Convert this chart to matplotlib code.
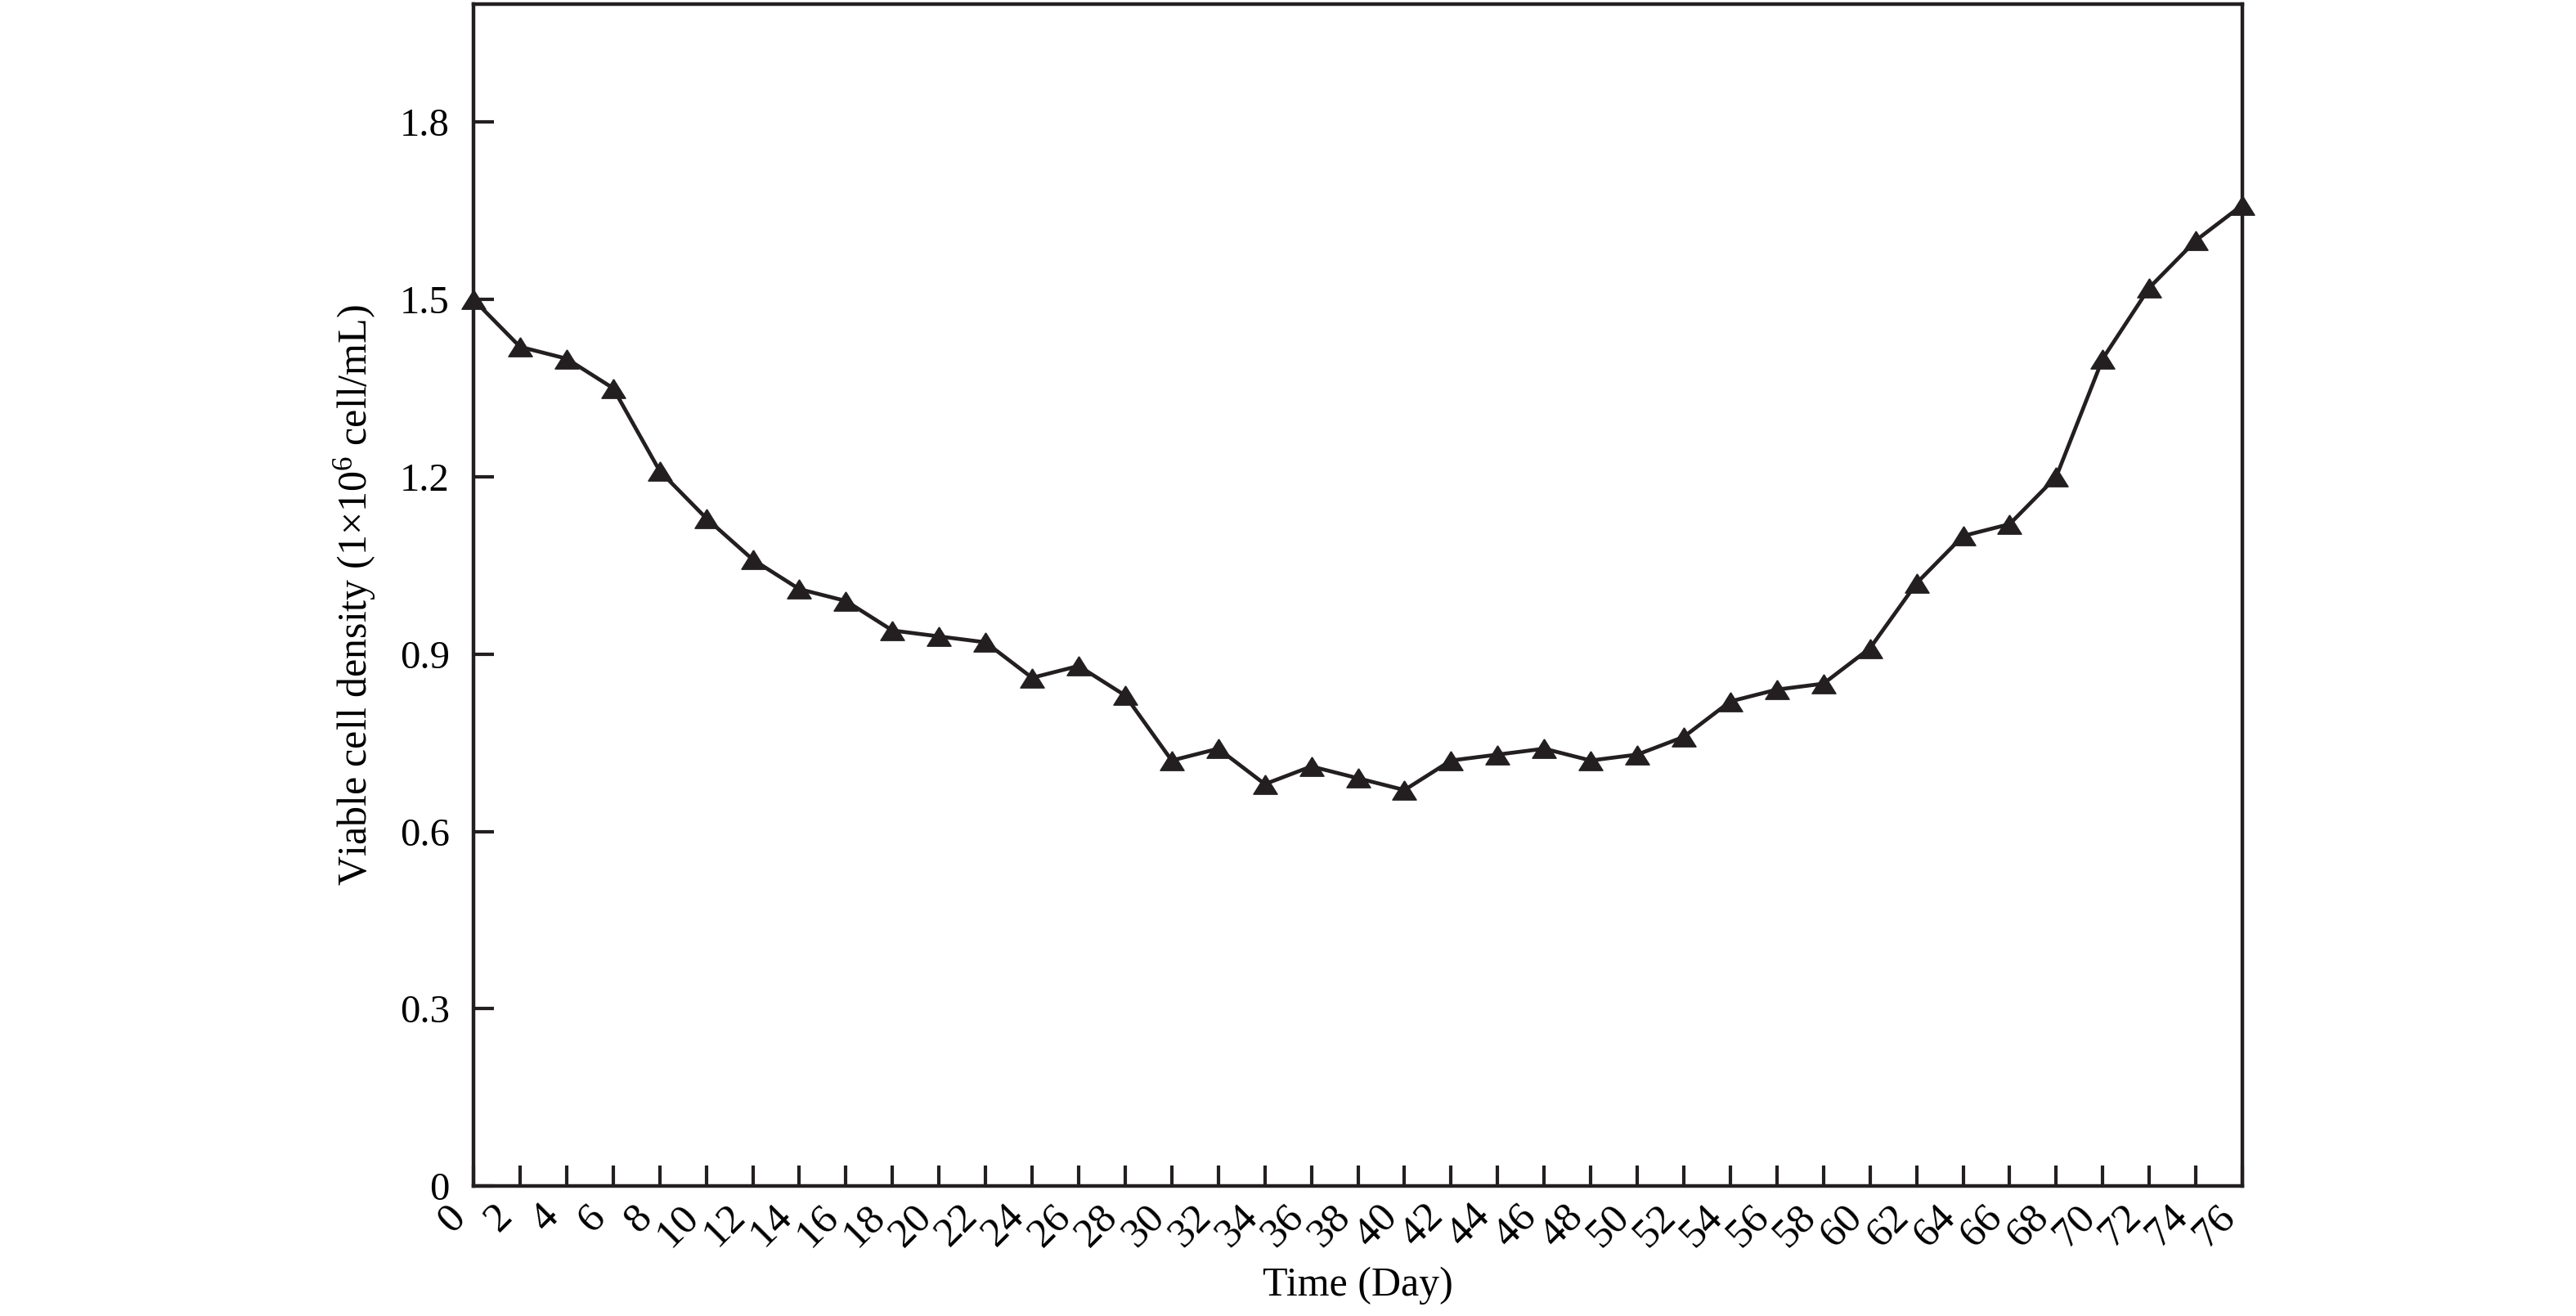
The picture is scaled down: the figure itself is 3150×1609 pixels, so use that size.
import matplotlib
matplotlib.use('Agg')
import matplotlib.pyplot as plt

# Day of culture
days = [0, 2, 4, 6, 8, 10, 12, 14, 16, 18, 20, 22, 24, 26, 28, 30, 32, 34, 36, 38,
        40, 42, 44, 46, 48, 50, 52, 54, 56, 58, 60, 62, 64, 66, 68, 70, 72, 74, 76]

# Viable cell density (1x10^6 cell/mL)
density = [1.50, 1.42, 1.40, 1.35, 1.21, 1.13, 1.06, 1.01, 0.99, 0.94, 0.93, 0.92,
           0.86, 0.88, 0.83, 0.72, 0.74, 0.68, 0.71, 0.69, 0.67, 0.72, 0.73, 0.74,
           0.72, 0.73, 0.76, 0.82, 0.84, 0.85, 0.91, 1.02, 1.10, 1.12, 1.20, 1.40,
           1.52, 1.60, 1.66]

y_ticks = [0, 0.3, 0.6, 0.9, 1.2, 1.5, 1.8]
y_tick_labels = ['0', '0.3', '0.6', '0.9', '1.2', '1.5', '1.8']

plt.rcParams['font.family'] = ['Liberation Serif', 'DejaVu Serif']
plt.rcParams['mathtext.fontset'] = 'custom'
plt.rcParams['mathtext.rm'] = 'Liberation Serif'
plt.rcParams['mathtext.it'] = 'Liberation Serif:italic'

INK = '#231f20'

fig = plt.figure(figsize=(31.5, 16.09), dpi=100)
ax = fig.add_axes([0.1838, 0.0988, 0.6867, 0.8981])

# wide flat triangle marker like the original
tri = [(0, 0.8), (-1, -0.8), (1, -0.8), (0, 0.8)]
ax.plot(days, density, color=INK, linewidth=3.4, marker=tri, markersize=21,
        markerfacecolor=INK, markeredgecolor=INK, clip_on=False, zorder=3)

ax.set_xlim(0, 76)
ax.set_ylim(0, 2.0)
ax.set_xticks(days)
ax.set_xticklabels([str(d) for d in days], rotation=45, ha='right', va='top')
ax.set_yticks(y_ticks)
ax.set_yticklabels(y_tick_labels)

for s in ax.spines.values():
    s.set_linewidth(3.2)
    s.set_color(INK)

ax.tick_params(axis='both', direction='in', length=18, width=3.0, color=INK,
               top=False, right=False)
ax.tick_params(axis='x', labelsize=37, pad=10)
ax.tick_params(axis='y', labelsize=35, pad=21)

ax.set_xlabel('Time (Day)', fontsize=36)
ax.xaxis.set_label_coords(0.5, -0.068)
ax.set_ylabel(r'Viable cell density (1×10$^{6}$ cell/mL)', fontsize=36)
ax.yaxis.set_label_coords(-0.054, 0.5)

fig.savefig('out.png', dpi=100)
plt.close(fig)
